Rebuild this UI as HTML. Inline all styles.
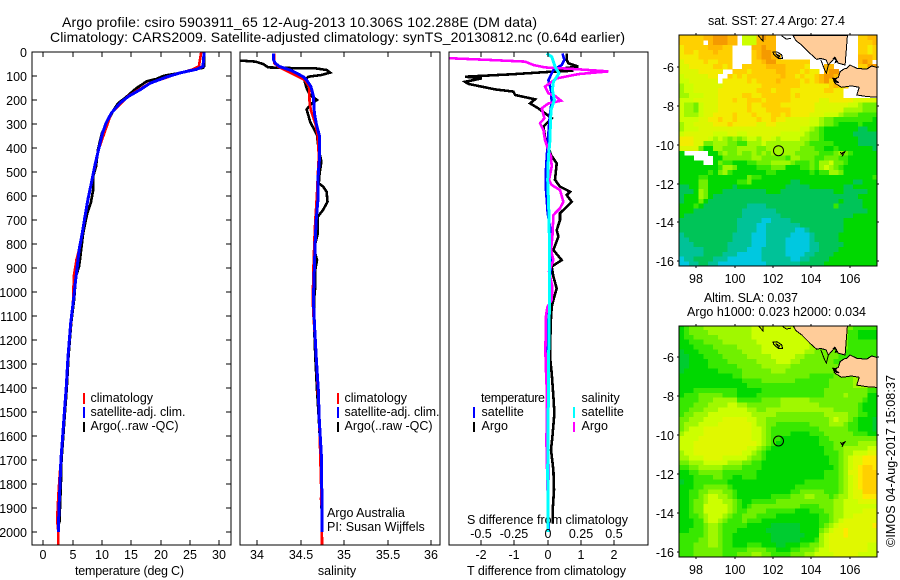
<!DOCTYPE html>
<html lang="en">
<head>
<meta charset="utf-8">
<title>Argo profile chart</title>
<style>
html,body{margin:0;padding:0;background:#fff}
svg{display:block}
text{font-family:"Liberation Sans",sans-serif;font-size:12.5px;fill:#000}
</style>
</head>
<body>
<svg id="chart" width="900" height="580" viewBox="0 0 900 580" xmlns="http://www.w3.org/2000/svg">
<defs>
<clipPath id="clip-temp"><rect x="32" y="52" width="199" height="493"/></clipPath>
<clipPath id="clip-sal"><rect x="240" y="52" width="200" height="493"/></clipPath>
<clipPath id="clip-diff"><rect x="449" y="52" width="199" height="493"/></clipPath>
<clipPath id="clip-map-a"><rect x="679" y="35" width="198" height="231"/></clipPath>
<clipPath id="clip-map-b"><rect x="679" y="326" width="198" height="231"/></clipPath>
</defs>
<text x="62" y="27" style="font-size:14px" textLength="475">Argo profile: csiro 5903911_65 12-Aug-2013 10.306S 102.288E (DM data)</text>
<text x="50" y="42" style="font-size:14px" textLength="575">Climatology: CARS2009. Satellite-adjusted climatology: synTS_20130812.nc (0.64d earlier)</text>
<text x="75" y="575" textLength="109">temperature (deg C)</text>
<text x="337" y="575" text-anchor="middle">salinity</text>
<text x="467" y="524" textLength="161">S difference from climatology</text>
<text x="467" y="575" textLength="159">T difference from climatology</text>
<text x="327" y="517">Argo Australia</text>
<text x="327" y="531">PI: Susan Wijffels</text>
<text x="708" y="25" textLength="137">sat. SST: 27.4 Argo: 27.4</text>
<text x="704" y="302" textLength="94">Altim. SLA: 0.037</text>
<text x="687" y="316" textLength="179">Argo h1000: 0.023 h2000: 0.034</text>
<text transform="translate(895,547) rotate(-90)" textLength="172">©IMOS 04-Aug-2017 15:08:37</text>
<g>
<line x1="84" x2="84" y1="393" y2="404" stroke="#f00" stroke-width="2"/>
<line x1="84" x2="84" y1="407" y2="418" stroke="#00f" stroke-width="2"/>
<line x1="84" x2="84" y1="422" y2="432" stroke="#000" stroke-width="2"/>
<text x="90.5" y="402">climatology</text>
<text x="90.5" y="416" textLength="95">satellite-adj. clim.</text>
<text x="90.5" y="430" textLength="88">Argo(..raw -QC)</text>
</g>
<g>
<line x1="338" x2="338" y1="393" y2="404" stroke="#f00" stroke-width="2"/>
<line x1="338" x2="338" y1="407" y2="418" stroke="#00f" stroke-width="2"/>
<line x1="338" x2="338" y1="422" y2="432" stroke="#000" stroke-width="2"/>
<text x="344.5" y="402">climatology</text>
<text x="344.5" y="416" textLength="95">satellite-adj. clim.</text>
<text x="344.5" y="430" textLength="88">Argo(..raw -QC)</text>
</g>
<g>
<text x="481" y="402" textLength="64">temperature</text>
<text x="581.5" y="402">salinity</text>
<line x1="474" x2="474" y1="407" y2="418" stroke="#00f" stroke-width="2"/>
<line x1="474" x2="474" y1="422" y2="432" stroke="#000" stroke-width="2"/>
<line x1="574" x2="574" y1="407" y2="418" stroke="#0ff" stroke-width="2"/>
<line x1="574" x2="574" y1="422" y2="432" stroke="#f0f" stroke-width="2"/>
<text x="481.5" y="416">satellite</text>
<text x="481.5" y="430">Argo</text>
<text x="581.5" y="416">satellite</text>
<text x="581.5" y="430">Argo</text>
</g>
<script>
/* ---------- data: depth ticks and axis ticks ---------- */
const depthTicks = [0,100,200,300,400,500,600,700,800,900,1000,1100,1200,1300,1400,1500,1600,1700,1800,1900,2000];
const tempTicks = [0,5,10,15,20,25,30];
const salTicks = [34,34.5,35,35.5,36];
const tDiffTicks = [-2,-1,0,1,2];
const sDiffLabels = ['-0.5','-0.25','0','0.25','0.5'];
const lonTicks = [98,100,102,104,106];
const latTicks = [-6,-8,-10,-12,-14,-16];

/* ---------- data: temperature panel ---------- */
const tempBlueDepth = [0,60,72,87,104,130,157,185,212,254,296,337,407,476,546,615,685,754,824,893,962,1032,1130,1270,1400,1500,1600,1700,1800,1900,2000];
const tempBlue = [27.4,27.2,26.1,23.3,21,18.2,16.5,14.5,13.1,11.6,10.7,10.1,9.4,8.75,8.2,7.6,7.1,6.65,6.1,5.8,5.45,5.15,4.66,4.2,3.9,3.6,3.3,3.0,2.85,2.67,2.55];
const tempRedDepth = [0,60,74,87,130,185,254,407,615,824,865,935,1030,1270,1400,1600,1780,1850,1950,2000,2055];
const tempRed = [26.9,26.5,25.3,23.3,18.1,14.4,11.6,9.4,7.6,6.1,5.65,5.2,5.1,4.2,3.9,3.3,2.75,2.55,2.35,2.55,2.55];
const tempArgoDepth = [0,60,66,76,87,99,112,122,136,150,171,192,212,233,282,337,407,476,518,574,629,671,754,865,893,935,1032,1130,1270,1400,1500,1600,1700,1800,1900,1965];
const tempArgo = [27.4,27.4,27.2,25,23.3,20.5,19.3,17.6,16.8,15.9,14.9,13.9,12.8,12.2,11.1,10,9.3,9.0,8.5,8.5,8.1,7.5,6.8,6.25,6.1,5.57,5.25,4.75,4.3,4.0,3.7,3.4,3.1,3.0,2.85,2.75];

/* ---------- data: salinity panel ---------- */
const salBlueDepth = [6,33,47,61,75,89,103,117,144,186,256,297,353,436,533,617,700,783,894,1033,1130,1270,1408,1526,1700,2000];
const salBlue = [34.19,34.19,34.21,34.26,34.38,34.46,34.53,34.57,34.62,34.65,34.66,34.68,34.72,34.72,34.70,34.70,34.68,34.67,34.66,34.648,34.66,34.68,34.705,34.715,34.743,34.747];
const salRedDepth = [6,47,61,75,89,103,117,144,214,242,297,353,436,506,589,644,700,783,894,1033,1100,1270,1526,1850,1860,1900,2055];
const salRed = [34.2,34.2,34.245,34.32,34.40,34.475,34.55,34.6,34.605,34.62,34.67,34.70,34.71,34.70,34.69,34.68,34.67,34.66,34.65,34.64,34.65,34.68,34.715,34.74,34.735,34.745,34.747];
const salArgoDepth = [20,36,40,50,64,67,68,75,86,96,103,110,124,151,179,200,214,239,263,290,318,346,381,422,457,506,547,561,582,624,658,686,756,797,839,867,908,978,1033,1130,1270,1408,1526,1700,1860,1965];
const salArgo = [33.7,33.81,33.98,34.07,34.13,34.4,34.67,34.8,34.84,34.74,34.59,34.57,34.55,34.57,34.61,34.69,34.63,34.57,34.59,34.61,34.65,34.69,34.70,34.72,34.74,34.72,34.71,34.76,34.80,34.81,34.76,34.70,34.70,34.67,34.67,34.69,34.67,34.67,34.655,34.655,34.67,34.69,34.71,34.735,34.74,34.745];

/* ---------- data: difference panel ---------- */
const diffTArgoDepth = [6,33,47,61,72,78,82,93,103,110,124,133,156,165,179,197,214,235,276,311,353,394,429,464,533,561,582,596,624,672,700,742,769,825,867,894,936,985,1033,1062,1130,1270,1338,1436,1505,1603,1658,1742,1825,1908,1964];
const diffTArgo = [0.57,0.57,0.62,0.92,0.22,0.77,0.12,-1.08,-2.48,-1.98,-2.48,-2.38,-1.58,-1.03,-0.98,-0.38,-0.53,-0.28,0.12,-0.13,-0.08,0.02,0.10,0.27,0.22,0.37,0.67,0.57,0.72,0.37,0.37,0.27,0.32,0.17,0.42,0.12,0.17,0.27,0.17,0.12,0.09,0.07,0.12,0.17,0.20,0.14,0.10,0.17,0.19,0.15,0.15];
const diffTSatDepth = [6,33,54,75,117,158,207,256,339,422,506,575,672,728,811,922,1033,1130,1300,1960,2000];
const diffTSat = [0.44,0.50,0.42,0.17,0.02,0.10,0.12,0.07,0.02,-0.02,-0.06,-0.05,0,0.07,0.10,0.08,0.06,0,0,0.02,0.04];
const diffSArgoDepth = [26,33,40,54,64,72,81,92,110,119,144,172,183,203,214,235,276,297,325,367,408,436,478,533,554,575,624,651,679,769,825,867,915,978,1033,1062,1100,1240,1300,1400,1505,1617,1980];
const diffSArgo = [-0.74,-0.445,-0.17,-0.1075,-0.02,0.23,0.455,0.23,0.0675,0.0425,-0.02,0.005,0.055,0.10,0.005,-0.045,-0.025,-0.0575,-0.0325,-0.02,0.005,0.025,0.03,0.01,0.03,0.0925,0.1175,0.0925,0.0425,0.035,0.025,0.0425,0.01,0.035,0.03,-0.0025,-0.0125,-0.0175,-0.015,-0.0075,-0.005,-0.01,0.005];
const diffSSatDepth = [6,20,61,89,124,158,200,242,297,367,436,533,644,783,922,1033,1130,1270,1408,1617,1742,1964,2000];
const diffSSat = [-0.0075,0.03,0.055,0.085,0.0425,0.035,0.05,0.025,0.02,0.0175,0.005,0,0.0075,0.0125,0.015,0.015,0.01,0.0075,0.005,0.0025,0,0.0025,0.0025];

/* ---------- data: map grids, level codes per 0.25 degree cell (w = no data) ---------- */
const sstRows = [
"aaaaabbcccbbw777bcbbwwwwwwwwwwwwwwwwwaabb",
"aaaaawbcccbbw777bbbbwwwwwwwwwwwwwwwwwaaab",
"9aaaaabbbaawwwwbbcbbwwwwwwwwwwwwwwwwwaa9a",
"9aa9aaabaaawwwwabccbwwwwwwwwwwwwwwwwwaa9a",
"9999aaaaaaawwwwabccbbwwwwwwwwwwwwwwwwbbba",
"89999a99aaawwwwaabccaaaaaaawwwwwwwwwwbcbw",
"8899999aa9awwaaaaabbbbaaaa9wwwbbwwwwwaacc",
"888899999wwaaa9aaaaabbaaa9a99wbccwwwwwwww",
"78888899wwa9a9aaaaaaabaa9a99abccbwwwwwwww",
"77888888w99999a9aaaabaaaa9a9abcaawwwwwwww",
"67788888899999999aaaaaaaa999999abaawwwwww",
"6778888899999999aaa9aaa9999999aa99wwwwwww",
"6677788899999aa99aaaaaa9a999999999wwwwwww",
"77788888999a99aaa9aaaaa999999889999988888",
"76657888999999a99aaaa99999998888888776555",
"76657888999999a999aaaaa999998888886666555",
"76667889999a999a999aa9a999988877765554444",
"77778899a99a9999a99a998888877655444444443",
"677888899 9a999998899888888877655433334333".replace(' ',''),
"67778888888888888888888887765433333332233",
"78888887778877888888877777655433333322222",
"99988876765656776887677776655433333332222",
"99988556665544666766666666544444333332222",
"88885336655566665566666665554433433333332",
"3wwwww33565565565656666655555444565433333",
"333wwww3355555566555554665554455544333333",
"33333ww3544333445556666544454667554333333",
"33333333466533334445553334454676543333333",
"33333343564333333344333333343446653333333",
"33334433333333544333333333333333333333334",
"33335533333344533333333223333333333322333",
"22335533333233333333332222233333332233333",
"22236533322222222233322222222222332222233",
"23336532222222222222222222222222222223333",
"23335322222222222222222222222222232222333",
"33343222222222111122222222222222422222333",
"33322222222221111111222222222222222222233",
"32222222222221111111122222222222222233333",
"22222222222211111001111222222222223333333",
"22222222222211110011111112222222223333333",
"22222222222211110011111100122222223333333",
"12222222222111100011111000012222233333333",
"11222222222111100011110000012222233333333",
"11122222221111100011110000011222223333333",
"11111222221111000111110000011222233333333",
"11111222211100000111110000112222333333333",
"01122221110000000111111001122223333333333",
"00112211000000000011111112222233333333333"
];
const slaRows = [
"34555666666666677777777776666666666544444",
"34555566666666677777777777666666666443333",
"34455555666666677777777777766666665443333",
"33444555566666667777777777766666665444444",
"33344445555566666777777777766555555444444",
"23334444555556666777777777665555544444444",
"22333444455555666667777766555555544444444",
"22333344445555556666777665555555444444444",
"22333344444455555666666555555555544455555",
"23333333444445555556665555555555555556666",
"33333333333445555555555555544444555566666",
"33333333333334444555555544444445555566666",
"33333333333333444444444444444445555566665",
"33344444444433333444444444444455555555544",
"34445555544433334444444444444455556555533",
"44445556666644444555566666655555555555433",
"44455566667766555555566666666555555554333",
"44555666777777665566666666666666555554333",
"45566677777777766666555555555566666554433",
"55666777788888776655555555555556766543332",
"56667777888888876655444444455556665443332",
"56777888888888877654444444444555555443332",
"67777888888888877654444333344455555544433",
"77778888888888877654433333333445555555555",
"77788888888888887654333333333444555556666",
"77788888888888776543333333333344556666677",
"67788888888887765433333333333344456677788",
"66777888877777655433333333333334456788999",
"55666777776665544333333333333334456788999",
"44556666655554444333333333333333456789aa9",
"33445555544444443333333333333344456889aaa",
"33344445544334443333333333333344456789aaa",
"23344444443333333333333333444444456789aaa",
"33344555554333333333333344444444456789aaa",
"33445566655433333333333445555544456788aaa",
"33445677665433333334444555665554566788999",
"33455677766543344444555555555555667778888",
"33455777776543455555555554444555667777777",
"33455777776544555544444433344455667777888",
"33445677765445554444333333333445667788888",
"33344677654445444333333333333445678888888",
"33344566544444333332222223333456788888889",
"33444566544433333322222223333567889888888",
"44444566544333333332222222333678889888888",
"44445566544333333332222223334678888888888",
"44455566544333444333223334455678888888877",
"44455555544444555544333445556778888888877",
"44455555544455566554444555667777888887777"
];

/* ---------- data: coastline in lon / lat ---------- */
const sumatraLon = [103.05,103.2,103.5,103.93,104.28,104.49,104.77,104.89,105.15,105.23,105.41,105.76,105.88];
const sumatraLat = [-4.37,-4.63,-4.85,-5.28,-5.59,-5.54,-5.62,-5.88,-5.59,-5.48,-5.79,-5.88,-4.37];
const javaLon = [105.84,106.02,106.37,106.89,107.15,107.44,107.44,106.89,106.37,106.5,106.1,105.58,105.23,105.15,105.41,105.5,105.76];
const javaLat = [-6.05,-5.88,-6.05,-6.1,-5.93,-6.02,-7.55,-7.51,-7.43,-7.03,-6.96,-7.03,-6.82,-6.62,-6.52,-6.22,-6.05];
const islandLon = [102.0,102.2,102.45,102.5,102.3,102.05];
const islandLat = [-5.22,-5.2,-5.35,-5.55,-5.55,-5.35];
const islandInnerLon = [102.15,102.35,102.3,102.15];
const islandInnerLat = [-5.3,-5.42,-5.48,-5.3];
const wedgeLon = [101.23,101.47,101.47];
const wedgeLat = [-4.37,-4.63,-4.37];
const coastBitLon = [102.45,102.7,102.95];
const coastBitLat = [-4.37,-4.55,-4.5];
const straitWestLon = [104.49,104.68,104.78,104.89];
const straitWestLat = [-5.6,-6.1,-6.3,-5.88];
const straitNorthLon = [105.15,105.3,105.25,105.35,105.2];
const straitNorthLat = [-5.55,-5.6,-5.75,-5.7,-5.5];
const straitSouthLon = [105.1,105.3,105.2,105.45];
const straitSouthLat = [-6.55,-6.6,-6.75,-6.8];
const christmasLon = [105.5,105.65,105.6,105.75,105.62,105.55];
const christmasLat = [-10.38,-10.5,-10.6,-10.35,-10.42,-10.5];
const floatLon = [102.288];
const floatLat = [-10.306];

/* ---------- colour levels ---------- */
const levelCodes = '0123456789abc';
const sstColors = ['#00c8e0','#00c298','#00c458','#00d800','#38e800','#70f000','#a0f800','#ccff00','#dcf800','#f4ec00','#ffd000','#ffb800','#f59a00'];
const slaColors = ['#00c8e0','#00c298','#00cc30','#00d800','#38e800','#70f000','#a0f800','#ccff00','#e0f800','#ffe800','#ffd000','#ffb800','#f59a00'];

/* ---------- axis functions ---------- */
const svg = document.getElementById('chart');
const NS = 'http://www.w3.org/2000/svg';
const depthY = d => 52 + d * 0.24;
const tempX = t => 43.3 + t * 5.87;
const salX = s => 257 + (s - 34) * 87;
const tDiffX = t => 547.7 + t * 33.3;
const sDiffX = s => 547.7 + s * 133.3;
const lonX = lon => 696.3 + (lon - 98) * 19.17;
const latYA = lat => 67.3 + (-6 - lat) * 19.37;
const latYB = lat => 357.3 + (-6 - lat) * 19.44;

function make(tag, attrs, parent) {
  const el = document.createElementNS(NS, tag);
  for (const k in attrs) el.setAttribute(k, attrs[k]);
  (parent || svg).appendChild(el);
  return el;
}
function profile(depths, values, xFn, color, clip, width) {
  const pts = depths.map((d, i) => xFn(values[i]).toFixed(1) + ',' + depthY(d).toFixed(1)).join(' ');
  return make('polyline', {points: pts, fill: 'none', stroke: color, 'stroke-width': width, 'shape-rendering': 'crispEdges', 'clip-path': 'url(#' + clip + ')'});
}
function tickLine(x1, y1, x2, y2) {
  const t = make('line', {x1, y1, x2, y2, stroke: '#000', 'stroke-width': 1, 'shape-rendering': 'crispEdges'});
  
  
}
function label(str, x, y, anchor) {
  const t = make('text', {x, y, 'text-anchor': anchor});
  t.textContent = str;
  
  
}
function box(x, y, w, h) {
  const b = make('rect', {x, y, width: w, height: h, fill: 'none', stroke: '#000', 'stroke-width': 1, 'shape-rendering': 'crispEdges'});
  
  
}

/* ---------- line panels ---------- */
let ln;
ln = profile(tempArgoDepth, tempArgo, tempX, '#000', 'clip-temp', 2.6);


ln = profile(tempRedDepth, tempRed, tempX, '#f00', 'clip-temp', 2.6);


ln = profile(tempBlueDepth, tempBlue, tempX, '#00f', 'clip-temp', 3);



ln = profile(salArgoDepth, salArgo, salX, '#000', 'clip-sal', 2.6);


ln = profile(salRedDepth, salRed, salX, '#f00', 'clip-sal', 2.6);


ln = profile(salBlueDepth, salBlue, salX, '#00f', 'clip-sal', 3);



ln = profile(diffTArgoDepth, diffTArgo, tDiffX, '#000', 'clip-diff', 2.6);


ln = profile(diffTSatDepth, diffTSat, tDiffX, '#00f', 'clip-diff', 2.6);


ln = profile(diffSArgoDepth, diffSArgo, sDiffX, '#f0f', 'clip-diff', 2.6);


ln = profile(diffSSatDepth, diffSSat, sDiffX, '#0ff', 'clip-diff', 3);



box(32, 52, 199, 493);
box(240, 52, 200, 493);
box(449, 52, 199, 493);

depthTicks.forEach(d => {
  const y = Math.round(depthY(d));
  if (d > 0) { tickLine(32, y, 37, y); tickLine(226, y, 231, y); }
  label(String(d), 27, y + 5, 'end');
});
tempTicks.forEach(t => {
  const x = Math.round(tempX(t));
  tickLine(x, 52, x, 57); tickLine(x, 540, x, 545);
  label(String(t), x, 559, 'middle');
});
salTicks.forEach(s => {
  const x = Math.round(salX(s));
  tickLine(x, 52, x, 57); tickLine(x, 540, x, 545);
  label(String(s), x, 559, 'middle');
});
tDiffTicks.forEach((t, i) => {
  const x = Math.round(tDiffX(t));
  tickLine(x, 52, x, 57); tickLine(x, 540, x, 545);
  label(String(t), x, 559, 'middle');
  label(sDiffLabels[i], x, 538, 'middle');
});

/* ---------- maps ---------- */
const cellLon = 0.2518;
const cellLat = 0.2483;
const westLon = 97.11;
const northLat = -4.35;

function drawGrid(rows, colors, latY, gridName, clip) {
  const g = make('g', {'clip-path': 'url(#' + clip + ')'});
  
  
  rows.forEach((row, r) => {
    for (let c = 0; c < 41; c++) {
      const code = row[c] || row[row.length - 1];
      const idx = levelCodes.indexOf(code);
      if (idx < 0) continue;
      const x0 = lonX(westLon + c * cellLon);
      const x1 = lonX(westLon + (c + 1) * cellLon);
      const y0 = latY(northLat - r * cellLat);
      const y1 = latY(northLat - (r + 1) * cellLat);
      const cell = make('rect', {x: x0.toFixed(1), y: y0.toFixed(1), width: (x1 - x0 + 0.4).toFixed(1), height: (y1 - y0 + 0.4).toFixed(1), fill: colors[idx], 'shape-rendering': 'crispEdges'}, g);
      
      
    }
  });
}
function coast(lons, lats, latY, fill, clip, closed) {
  const pts = lons.map((lon, i) => lonX(lon).toFixed(1) + ',' + latY(lats[i]).toFixed(1)).join(' ');
  return make(closed ? 'polygon' : 'polyline', {points: pts, fill, stroke: '#000', 'stroke-width': 1, 'shape-rendering': 'crispEdges', 'clip-path': 'url(#' + clip + ')'});
}
function drawMap(rows, colors, latY, clip, top, gridName) {
  drawGrid(rows, colors, latY, gridName, clip);
  let shp;
  shp = coast(sumatraLon, sumatraLat, latY, '#ffcc99', clip, true);
  
  
  shp = coast(javaLon, javaLat, latY, '#ffcc99', clip, true);
  
  
  shp = coast(islandLon, islandLat, latY, 'none', clip, true);
  
  
  shp = coast(islandInnerLon, islandInnerLat, latY, 'none', clip, true);
  
  
  shp = coast(wedgeLon, wedgeLat, latY, 'none', clip, false);
  
  
  shp = coast(coastBitLon, coastBitLat, latY, 'none', clip, false);
  
  
  shp = coast(straitWestLon, straitWestLat, latY, 'none', clip, false);
  
  
  shp = coast(straitNorthLon, straitNorthLat, latY, '#000', clip, true);
  
  
  shp = coast(straitSouthLon, straitSouthLat, latY, '#000', clip, true);
  
  
  shp = coast(christmasLon, christmasLat, latY, 'none', clip, false);
  
  
  const marker = make('circle', {cx: lonX(floatLon[0]).toFixed(1), cy: latY(floatLat[0]).toFixed(1), r: 5, fill: 'none', stroke: '#000', 'stroke-width': 1});
  
  
  box(679, top, 198, 231);
  lonTicks.forEach(lon => {
    const x = Math.round(lonX(lon));
    tickLine(x, top, x, top - 2); tickLine(x, top + 231, x, top + 233);
    label(String(lon), x, top + 248, 'middle');
  });
  latTicks.forEach(lat => {
    const y = Math.round(latY(lat));
    tickLine(677, y, 679, y); tickLine(877, y, 879, y);
    label(String(lat), 674, y + 5, 'end');
  });
}
drawMap(sstRows, sstColors, latYA, 'clip-map-a', 35, 'sst-heatmap');
drawMap(slaRows, slaColors, latYB, 'clip-map-b', 326, 'sla-heatmap');
</script>
</svg>
</body>
</html>
